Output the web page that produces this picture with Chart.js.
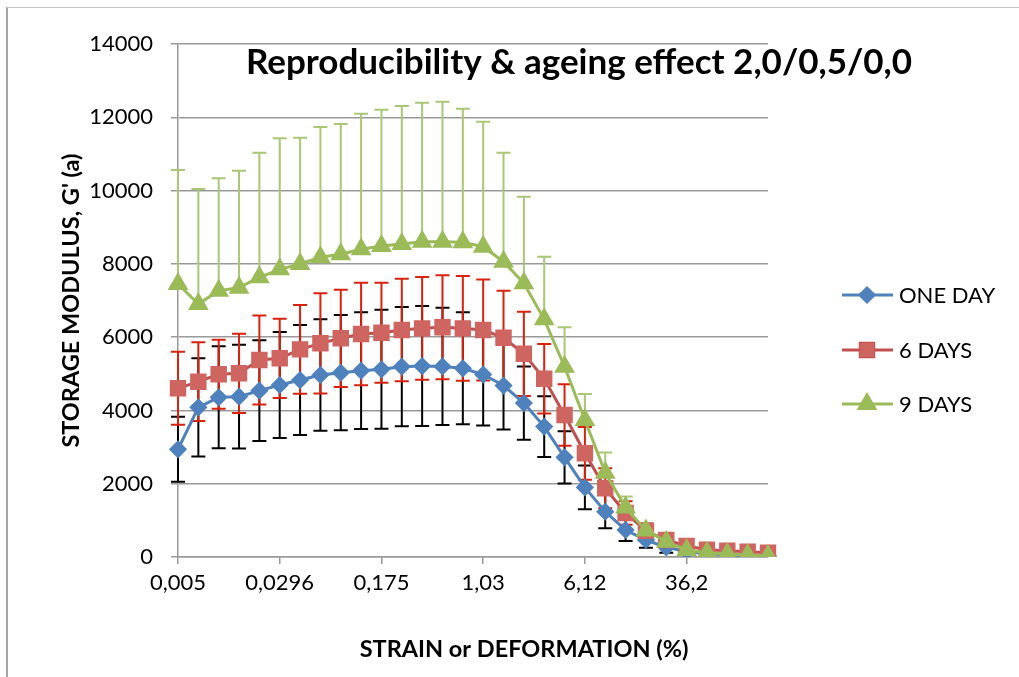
<!DOCTYPE html>
<html>
<head>
<meta charset="utf-8">
<script src="https://cdn.jsdelivr.net/npm/chart.js@4.4.1/dist/chart.umd.min.js"></script>
<style>
  html, body { margin: 0; padding: 0; background: #fff; }
  #wrap { position: relative; width: 1019px; height: 677px; }
</style>
</head>
<body>
<div id="wrap"><canvas id="myChart" width="1019" height="677"></canvas></div>
<script>
const strainLabels = [
  "0,005", "0,00713", "0,0102", "0,0145", "0,0207", "0,0296", "0,0421", "0,0601", "0,0857", "0,122",
  "0,175", "0,249", "0,355", "0,506", "0,722", "1,03", "1,47", "2,1", "2,99", "4,26",
  "6,12", "8,73", "12,4", "17,7", "25,3", "36,2", "51,6", "73,6", "105", "150",
];

const oneDay = [
  2940, 4085, 4358, 4375, 4539, 4694, 4830, 4967, 5030, 5085,
  5122, 5194, 5212, 5200, 5150, 4980, 4680, 4200, 3560, 2720,
  1900, 1236, 737, 464, 264, 150, 90, 60, 40, 30,
];
const oneDayErr = [
  887, 1342, 1392, 1414, 1374, 1446, 1501, 1519, 1574, 1592,
  1624, 1628, 1638, 1600, 1530, 1390, 1200, 1000, 830, 715,
  595, 453, 300, 210, 150, 180, 60, 40, 30, 20,
];

const sixDays = [
  4603, 4785, 4985, 5013, 5376, 5422, 5667, 5831, 5968, 6086,
  6122, 6195, 6240, 6270, 6240, 6195, 5985, 5545, 4865, 3875,
  2830, 1875, 1200, 715, 464, 300, 200, 172, 145, 117,
];
const sixDaysErr = [
  996, 1073, 942, 1083, 1215, 1082, 1210, 1369, 1328, 1397,
  1365, 1397, 1402, 1420, 1430, 1380, 1280, 1150, 950, 840,
  720, 545, 320, 200, 120, 80, 60, 40, 30, 20,
];

const nineDays = [
  7450, 6904, 7268, 7350, 7633, 7851, 7996, 8178, 8260, 8397,
  8487, 8542, 8605, 8605, 8590, 8469, 8059, 7469, 6486, 5194,
  3739, 2300, 1350, 720, 418, 191, 117, 82, 55, 27,
];
const nineDaysErr = [
  3111, 3139, 3066, 3193, 3401, 3574, 3447, 3557, 3557, 3702,
  3721, 3766, 3794, 3821, 3645, 3411, 2975, 2364, 1709, 1074,
  709, 550, 300, 100, 60, 40, 30, 20, 10, 10,
];

const FONT = "Lato, 'Open Sans', sans-serif";
const GRID = "#999999";

const errorSets = [
  { values: oneDay, err: oneDayErr, color: "#000000", plusOnly: false },
  { values: sixDays, err: sixDaysErr, color: "#d8220e", plusOnly: false },
  { values: nineDays, err: nineDaysErr, color: "#a9c774", plusOnly: true },
];

// error bars, drawn under the markers
const errorBars = {
  id: "errorBars",
  beforeDatasetsDraw(chart) {
    const { ctx, chartArea, scales } = chart;
    const x = scales.x, y = scales.y;
    ctx.save();
    ctx.beginPath();
    ctx.rect(0, 0, chart.width, chartArea.bottom);
    ctx.clip();
    errorSets.forEach((s) => {
      ctx.strokeStyle = s.color;
      ctx.lineWidth = 2;
      s.values.forEach((v, i) => {
        const px = x.getPixelForValue(i);
        const hi = y.getPixelForValue(v + s.err[i]);
        const lo = y.getPixelForValue(s.plusOnly ? v : v - s.err[i]);
        ctx.beginPath();
        ctx.moveTo(px, hi);
        ctx.lineTo(px, lo);
        ctx.moveTo(px - 7, hi);
        ctx.lineTo(px + 7, hi);
        if (!s.plusOnly) {
          ctx.moveTo(px - 7, lo);
          ctx.lineTo(px + 7, lo);
        }
        ctx.stroke();
      });
    });
    ctx.restore();
  },
};

// frame, title, x title and legend the way Excel lays them out
const decorations = {
  id: "decorations",
  afterDraw(chart) {
    const { ctx } = chart;
    ctx.save();
    ctx.strokeStyle = "#a6a6a6";
    ctx.lineWidth = 2;
    ctx.beginPath();
    ctx.moveTo(7, 7);
    ctx.lineTo(7, chart.height);
    ctx.stroke();
    ctx.strokeStyle = "#c4c4c4";
    ctx.lineWidth = 1;
    ctx.beginPath();
    ctx.moveTo(7, 7.5);
    ctx.lineTo(chart.width, 7.5);
    ctx.stroke();

    ctx.fillStyle = "#000";
    ctx.textAlign = "center";
    ctx.textBaseline = "middle";
    ctx.font = "bold 35px " + FONT;
    ctx.fillText("Reproducibility & ageing effect 2,0/0,5/0,0", 579, 63);

    ctx.font = "bold 23.5px " + FONT;
    ctx.fillText("STRAIN or DEFORMATION (%)", 524, 649);

    const rows = [295, 350, 404];
    chart.data.datasets.forEach((ds, i) => {
      const yy = rows[i];
      ctx.strokeStyle = ds.borderColor;
      ctx.lineWidth = 3;
      ctx.beginPath();
      ctx.moveTo(842, yy);
      ctx.lineTo(893, yy);
      ctx.stroke();
      Chart.helpers.drawPoint(ctx, {
        pointStyle: ds.pointStyle,
        radius: ds.pointRadius,
        rotation: 0,
        borderWidth: 1,
      }, 867, yy);
      ctx.fillStyle = ds.pointBackgroundColor;
      ctx.strokeStyle = ds.pointBorderColor;
      ctx.lineWidth = 1;
      ctx.fill();
      ctx.stroke();
      ctx.fillStyle = "#000";
      ctx.textAlign = "left";
      ctx.font = "22px " + FONT;
      ctx.fillText(ds.label, 899, yy + 1);
    });
    ctx.restore();
  },
};

new Chart("myChart", {
  type: "line",
  data: {
    labels: strainLabels,
    datasets: [
      {
        label: "ONE DAY",
        data: oneDay,
        borderColor: "#4f81bd",
        backgroundColor: "#4f81bd",
        pointBackgroundColor: "#4f81bd",
        pointBorderColor: "#4f81bd",
        pointStyle: "rectRot",
        pointRadius: 7,
        borderWidth: 3,
        order: 2,
      },
      {
        label: "6 DAYS",
        data: sixDays,
        borderColor: "#c0504d",
        backgroundColor: "#c0504d",
        pointBackgroundColor: "#cf6560",
        pointBorderColor: "#cf6560",
        pointStyle: "rect",
        pointRadius: 9.5,
        borderWidth: 3,
        order: 1,
      },
      {
        label: "9 DAYS",
        data: nineDays,
        borderColor: "#9bbb59",
        backgroundColor: "#9bbb59",
        pointBackgroundColor: "#9bbb59",
        pointBorderColor: "#9bbb59",
        pointStyle: "triangle",
        pointRadius: 9,
        borderWidth: 3,
        order: 0,
      },
    ],
  },
  plugins: [errorBars, decorations],
  options: {
    responsive: false,
    animation: false,
    layout: {
      padding: { top: 44, right: 251, bottom: 0, left: 0 },
    },
    plugins: {
      legend: { display: false },
      title: { display: false },
      tooltip: { enabled: false },
    },
    scales: {
      x: {
        afterFit(scale) {
          scale.height = 120;
        },
        border: { display: true, color: GRID, width: 1.5 },
        grid: {
          drawOnChartArea: false,
          tickLength: 7,
          lineWidth: 1.5,
          tickColor: (c) => (c.index % 5 === 0 ? GRID : "rgba(0,0,0,0)"),
        },
        ticks: {
          autoSkip: false,
          maxRotation: 0,
          padding: 6,
          color: "#000",
          font: { family: FONT, size: 22 },
          callback: (v, i) => (i % 5 === 0 ? strainLabels[i] : ""),
        },
      },
      y: {
        min: 0,
        max: 14000,
        afterFit(scale) {
          scale.width = 178;
        },
        border: { display: true, color: GRID, width: 1.5 },
        grid: {
          color: GRID,
          lineWidth: 1.5,
          tickLength: 7,
        },
        ticks: {
          stepSize: 2000,
          padding: 18,
          color: "#000",
          font: { family: FONT, size: 22 },
          callback: (v) => String(v),
        },
        title: {
          display: true,
          text: "STORAGE MODULUS, G' (a)",
          color: "#000",
          padding: { top: 57 },
          font: { family: FONT, size: 23.5, weight: "bold" },
        },
      },
    },
  },
});
</script>
</body>
</html>
